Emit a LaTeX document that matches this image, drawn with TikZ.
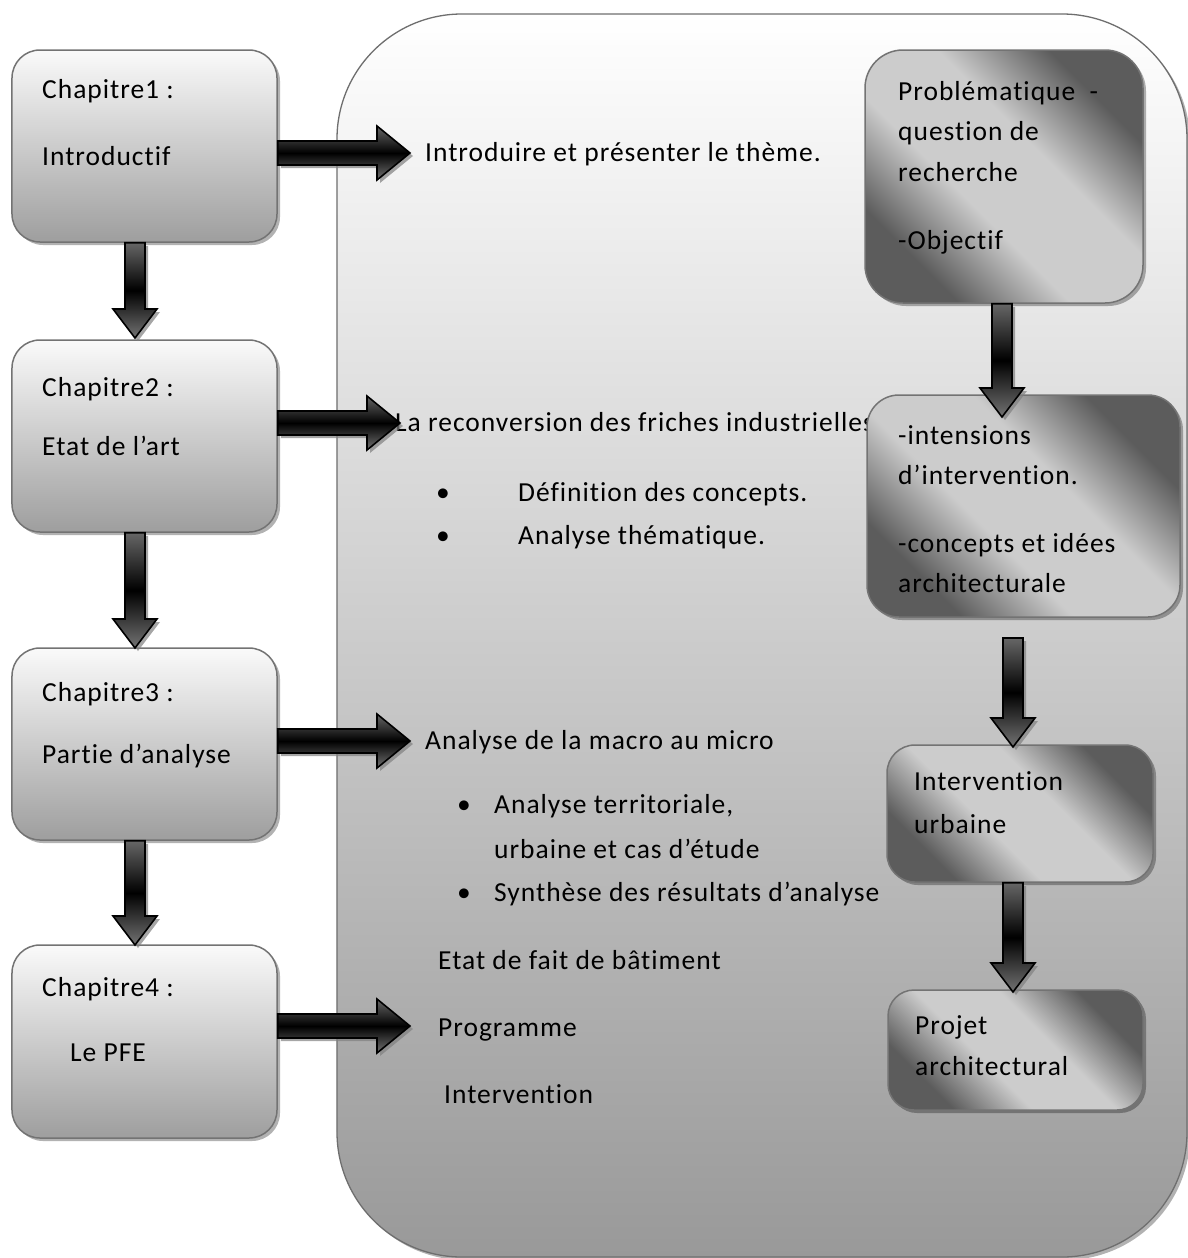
\documentclass[tikz,border=0pt]{standalone}
\usepackage{fontspec}
\setmainfont{Carlito}[LetterSpace=3.6,Ligatures=NoCommon]
\usetikzlibrary{calc,shadows}
\pgfdeclareverticalshading{diagsh}{100bp}{color(0bp)=(black!64); color(27bp)=(black!64);
  color(42bp)=(black!20); color(58bp)=(black!20); color(73bp)=(black!64); color(100bp)=(black!64)}
\tikzset{
  shd/.style={drop shadow={shadow xshift=3bp, shadow yshift=-3bp, fill=black, opacity=.3}},
  panel/.style={draw=black!57, line width=1.3bp, top color=white, bottom color=black!40,
    rounded corners=125bp, inner sep=0pt, shd},
  chapbox/.style={draw=black!55, line width=1.5bp, rounded corners=28bp, inner sep=0pt,
    top color=black!2, bottom color=black!38, shd},
  stepbox/.style={draw=black!55, line width=1.5bp, rounded corners=32bp, inner sep=0pt,
    shading=diagsh, shading angle=-45, shd},
  txt/.style={anchor=base west, inner sep=0pt, font=\fontsize{27.5bp}{33bp}\selectfont},
  blkarrow/.style={draw=black, line width=1.6bp, line join=miter,
    top color=black!60, bottom color=black!55, middle color=black,
    drop shadow={shadow xshift=3bp, shadow yshift=-3bp, fill=black!50, opacity=.7}},
}
% vertical block arrow: #1 source point (top of shaft, its y), #2 tip coordinate
\newcommand\blkdown[2]{%
  \path[blkarrow] ($(#2|-#1)+(-10,0)$) -- ($(#2)+(-10,-29)$) -- ($(#2)+(-22,-29)$) -- (#2)
    -- ($(#2)+(22,-29)$) -- ($(#2)+(10,-29)$) -- ($(#2|-#1)+(10,0)$) -- cycle;}
% horizontal block arrow: #1 source point (its x), #2 tip coordinate
\newcommand\blkright[2]{%
  \path[blkarrow] ($(#1|-#2)+(0,-12)$) -- ($(#2)+(-33,-12)$) -- ($(#2)+(-33,-27)$) -- (#2)
    -- ($(#2)+(-33,27)$) -- ($(#2)+(-33,12)$) -- ($(#1|-#2)+(0,12)$) -- cycle;}
\begin{document}
\begin{tikzpicture}[x=1bp,y=-1bp]
\useasboundingbox (0,0) rectangle (1188,1258);
% big panel
\node[panel, minimum width=850bp, minimum height=1243bp] (panel) at (762,635.5) {};

% panel texts
\node[txt] (t1) at (425,161) {Introduire et présenter le thème.};
\node[txt] (t2) at (395,431) {La reconversion des friches industrielles};
\node[txt] (b1) at (436,501) {•};
\node[txt] (t2a) at (518,501) {Définition des concepts.};
\node[txt] (b2) at (436,544) {•};
\node[txt] (t2b) at (518,544) {Analyse thématique.};
\node[txt] (t3) at (425,749) {Analyse de la macro au micro};
\node[txt] (b3) at (457,813) {•};
\node[txt] (t3a) at (494,813) {Analyse territoriale,};
\node[txt] (t3b) at (494,858) {urbaine et cas d’étude};
\node[txt] (b4) at (457,901) {•};
\node[txt] (t3c) at (494,901) {Synthèse des résultats d’analyse};
\node[txt] (t4a) at (438,969) {Etat de fait de bâtiment};
\node[txt] (t4b) at (438,1036) {Programme};
\node[txt] (t4c) at (444,1103) {Intervention};

% left chapter boxes
\node[chapbox, minimum width=265bp, minimum height=192bp] (c1) at (144.5,146) {};
\node[chapbox, minimum width=265bp, minimum height=192bp] (c2) at (144.5,436) {};
\node[chapbox, minimum width=265bp, minimum height=192bp] (c3) at (144.5,744) {};
\node[chapbox, minimum width=265bp, minimum height=193bp] (c4) at (144.5,1041.5) {};
\node[txt] (c1a) at (42,98) {Chapitre1 :};
\node[txt] (c1b) at (42,165) {Introductif};
\node[txt] (c2a) at (42,396) {Chapitre2 :};
\node[txt] (c2b) at (42,455) {Etat de l’art};
\node[txt] (c3a) at (42,701) {Chapitre3 :};
\node[txt] (c3b) at (42,763) {Partie d’analyse};
\node[txt] (c4a) at (42,996) {Chapitre4 :};
\node[txt] (c4b) at (70,1061) {Le PFE};

% right boxes
\node[stepbox, minimum width=278bp, minimum height=253bp, rounded corners=38bp] (rp) at (1004,176.5) {};
\node[stepbox, minimum width=313bp, minimum height=222bp] (ri) at (1023.5,506) {};
\node[stepbox, minimum width=266bp, minimum height=137bp, rounded corners=28bp] (ru) at (1020,813.5) {};
\node[stepbox, minimum width=255bp, minimum height=120bp, rounded corners=26bp] (rr) at (1015.5,1050) {};
\node[txt] (rpa) at (898,100) {Problématique\ \ -};
\node[txt] (rpb) at (898,140) {question de};
\node[txt] (rpc) at (898,181) {recherche};
\node[txt] (rpd) at (898,249) {-Objectif};
\node[txt] (ria) at (898,444) {-intensions};
\node[txt] (rib) at (898,484) {d’intervention.};
\node[txt] (ric) at (898,552) {-concepts et idées};
\node[txt] (rid) at (898,592) {architecturale};
\node[txt] (rua) at (914,790) {Intervention};
\node[txt] (rub) at (914,833) {urbaine};
\node[txt] (rra) at (915,1034) {Projet};
\node[txt] (rrb) at (915,1075) {architectural};

% arrow tips and free ends
\coordinate (d12) at (135,338);
\coordinate (d23) at (135,648);
\coordinate (d34) at (135,945);
\coordinate (h1) at (410,153);
\coordinate (h2) at (400,423);
\coordinate (h3) at (410,741);
\coordinate (h4) at (410,1026);
\coordinate (dpi) at (1002,417);
\coordinate (siu) at (1013,638);
\coordinate (diu) at (1013,747);
\coordinate (dur) at (1013,992);

% arrows
\blkdown{c1.south}{d12}
\blkdown{c2.south}{d23}
\blkdown{c3.south}{d34}
\blkright{c1.east}{h1}
\blkright{c2.east}{h2}
\blkright{c3.east}{h3}
\blkright{c4.east}{h4}
\blkdown{rp.south}{dpi}
\blkdown{siu}{diu}
\blkdown{ru.south}{dur}
\end{tikzpicture}
\end{document}
